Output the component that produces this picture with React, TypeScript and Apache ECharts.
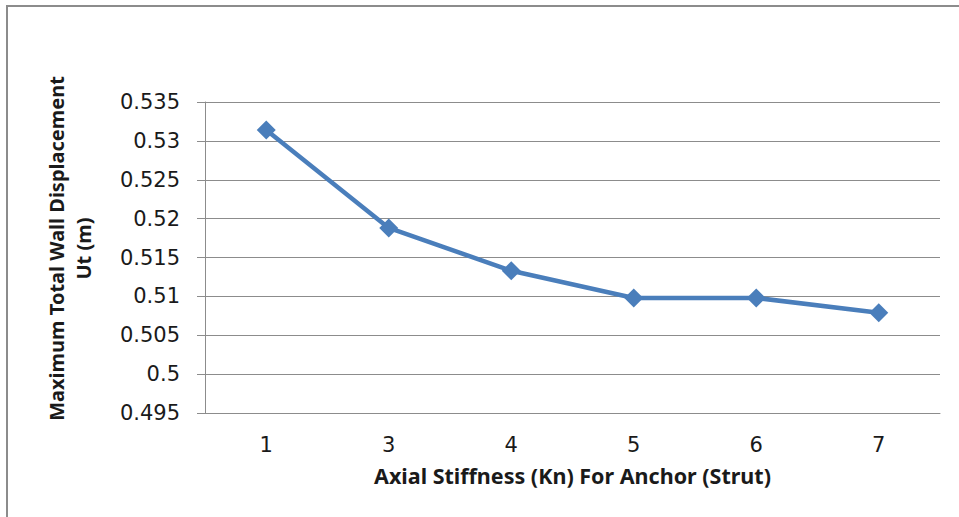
import React, { useEffect, useRef } from "react";
import * as echarts from "echarts";

const categories = ["1", "3", "4", "5", "6", "7"];
const displacement = [0.5314, 0.5188, 0.5133, 0.5098, 0.5098, 0.5079];
const yMin = 0.495;
const yMax = 0.535;
const yStep = 0.005;
const xTitle = "Axial Stiffness (Kn) For Anchor (Strut)";
const yTitle = "Maximum Total Wall Displacement\nUt (m)";

export default function App() {
  const ref = useRef<HTMLDivElement>(null);
  useEffect(() => {
    if (!ref.current) return;
    const chart = echarts.init(ref.current, undefined, { renderer: "svg" });
    chart.setOption({
      animation: false,
      backgroundColor: "#ffffff",
      graphic: [
        {
          type: "rect",
          shape: { x: 7, y: 6, width: 1000, height: 600 },
          style: { fill: "none", stroke: "#8c8c8c", lineWidth: 2 },
          silent: true,
        },
      ],
      grid: { left: 205, right: 19, top: 102, bottom: 104, containLabel: false },
      xAxis: {
        type: "category",
        data: categories,
        boundaryGap: true,
        axisLine: { show: true, lineStyle: { color: "#8c8c8c", width: 1 } },
        axisTick: { show: false },
        axisLabel: {
          margin: 21,
          color: "#1a1a1a",
          fontFamily: "DejaVu Sans",
          fontSize: 21,
        },
        name: xTitle,
        nameLocation: "middle",
        nameGap: 51,
        nameTextStyle: {
          fontFamily: "Noto Sans",
          fontWeight: "bold",
          fontSize: 21.5,
          color: "#1a1a1a",
        },
      },
      yAxis: {
        type: "value",
        min: yMin,
        max: yMax,
        interval: yStep,
        axisLine: { show: true, lineStyle: { color: "#8c8c8c", width: 1 } },
        axisTick: { show: true, length: 8, inside: false, lineStyle: { color: "#8c8c8c" } },
        axisLabel: {
          margin: 25,
          color: "#1a1a1a",
          fontFamily: "DejaVu Sans",
          fontSize: 21,
          formatter: (v: number) => String(parseFloat(v.toFixed(3))),
        },
        splitLine: { show: true, lineStyle: { color: "#8c8c8c", width: 1 } },
        name: yTitle,
        nameLocation: "middle",
        nameGap: 108,
        nameRotate: 90,
        nameTextStyle: {
          fontFamily: "Noto Sans",
          fontWeight: "bold",
          fontSize: 20,
          lineHeight: 27,
          color: "#1a1a1a",
          align: "center",
          padding: [0, 0, 0, 18],
        },
      },
      series: [
        {
          type: "line",
          data: displacement,
          symbol: "diamond",
          symbolSize: 19,
          showSymbol: true,
          lineStyle: { color: "#4a7ebb", width: 4.5 },
          itemStyle: { color: "#4a7ebb" },
        },
      ],
    });
    return () => chart.dispose();
  }, []);
  return (
    <div
      ref={ref}
      style={{ position: "fixed", left: 0, top: 0, width: 959, height: 517 }}
    />
  );
}
